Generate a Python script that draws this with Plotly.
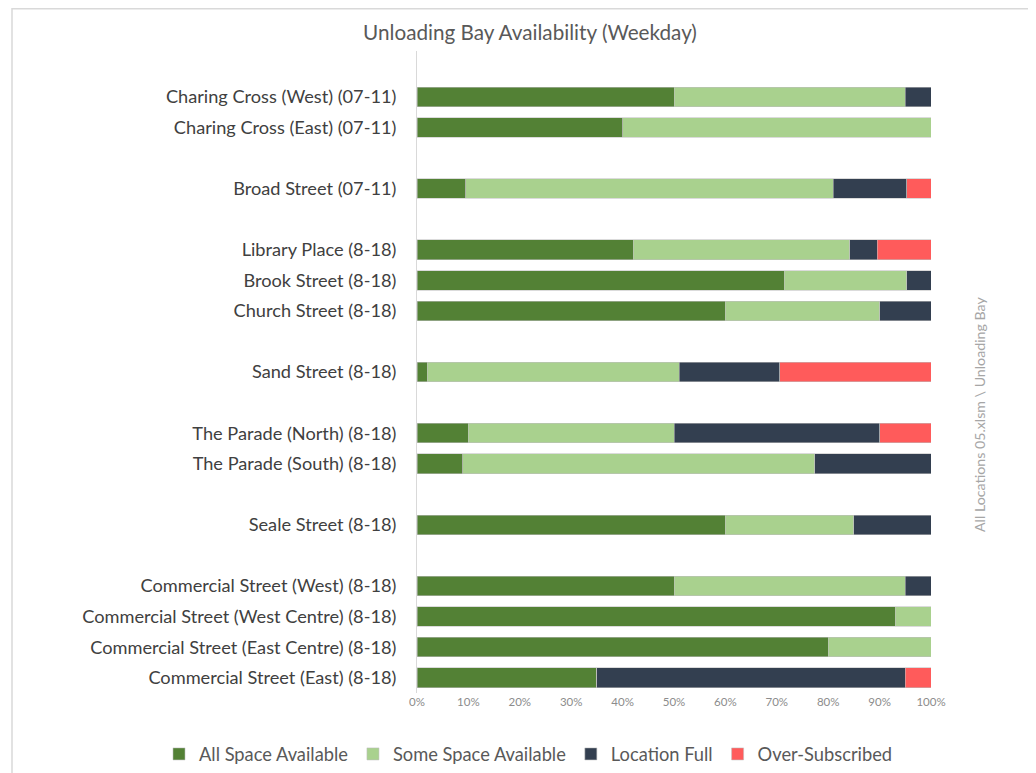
import plotly.graph_objects as go

locations = [
    "Charing Cross (West) (07-11)",
    "Charing Cross (East) (07-11)",
    "Broad Street (07-11)",
    "Library Place (8-18)",
    "Brook Street (8-18)",
    "Church Street (8-18)",
    "Sand Street (8-18)",
    "The Parade (North) (8-18)",
    "The Parade (South) (8-18)",
    "Seale Street (8-18)",
    "Commercial Street (West) (8-18)",
    "Commercial Street (West Centre) (8-18)",
    "Commercial Street (East Centre) (8-18)",
    "Commercial Street (East) (8-18)",
]
# row slot of each location (blank slots separate groups)
slots = [0, 1, 3, 5, 6, 7, 9, 11, 12, 14, 16, 17, 18, 19]

all_space = [50.0, 40.0, 9.52, 42.1, 71.43, 60.0, 1.96, 10.0, 8.9, 60.0, 50.0, 93.0, 80.0, 35.0]
some_space = [45.0, 60.0, 71.43, 42.1, 23.81, 30.0, 49.02, 40.0, 68.5, 25.0, 45.0, 7.0, 20.0, 0.0]
location_full = [5.0, 0.0, 14.29, 5.3, 4.76, 10.0, 19.61, 40.0, 22.6, 15.0, 5.0, 0.0, 0.0, 60.0]
over_subscribed = [0.0, 0.0, 4.76, 10.5, 0.0, 0.0, 29.41, 10.0, 0.0, 0.0, 0.0, 0.0, 0.0, 5.0]

series = [
    ("All Space Available", all_space, "#538135"),
    ("Some Space Available", some_space, "#A9D18E"),
    ("Location Full", location_full, "#333F50"),
    ("Over-Subscribed", over_subscribed, "#FF5B5B"),
]

x_ticks = [0, 10, 20, 30, 40, 50, 60, 70, 80, 90, 100]
x_tick_labels = ["0%", "10%", "20%", "30%", "40%", "50%", "60%", "70%", "80%", "90%", "100%"]

FONT = "Lato"

fig = go.Figure()
for name, vals, col in series:
    fig.add_trace(go.Bar(
        y=slots, x=vals, name=name, orientation="h",
        marker=dict(color=col, line=dict(color="rgba(190,190,190,0.7)", width=0.8)),
        width=0.64,
    ))

# page body has an 8px margin: work in figure pixels = screen pixels - 8
OFF = 8
W, H = 1036 - OFF, 773 - OFF
L = 417 - OFF
R = W - (931 - OFF)
T = 51 - OFF
B = H - (693 - OFF)
pw, ph = W - L - R, H - T - B

def px_x(sx):
    return (sx - OFF - L) / pw

def px_y(sy):
    return (H - B - (sy - OFF)) / ph

fig.update_layout(
    width=W, height=H,
    barmode="stack",
    plot_bgcolor="white", paper_bgcolor="white",
    margin=dict(l=L, r=R, t=T, b=B, autoexpand=False),
    font=dict(family=FONT, color="#595959"),
    title=dict(text="Unloading Bay Availability (Weekday)", x=(530 - OFF) / W, xanchor="center",
               y=1 - (33 - OFF) / H, yanchor="middle",
               font=dict(size=20.7, color="#595959", family=FONT)),
    xaxis=dict(range=[0, 100], tickvals=x_ticks, ticktext=x_tick_labels,
               showgrid=False, zeroline=False, showline=False,
               tickfont=dict(size=11.5, color="#8c8c8c"), ticks=""),
    yaxis=dict(range=[19.5, -1.5], tickvals=slots, ticktext=locations,
               showgrid=False, zeroline=False, showline=True, linecolor="#d9d9d9",
               linewidth=1, ticks="outside", ticklen=16, tickcolor="rgba(0,0,0,0)",
               tickfont=dict(size=18.2, color="#404040")),
    legend=dict(orientation="h", x=px_x(159), xanchor="left", y=px_y(754), yanchor="middle",
                font=dict(size=18.3, color="#595959"), traceorder="normal",
                itemwidth=30),
    bargap=0.36,
    shapes=[dict(type="rect", xref="paper", yref="paper",
                 x0=px_x(12), x1=px_x(1050), y0=px_y(790), y1=px_y(8.75),
                 line=dict(color="#d9d9d9", width=1.5), fillcolor="rgba(0,0,0,0)", layer="below")],
    annotations=[dict(text="All Locations 05.xlsm \\ Unloading Bay", xref="paper", yref="paper",
                      x=px_x(979), y=px_y(415), textangle=-90, showarrow=False,
                      font=dict(size=14.2, color="#a6a6a6"), xanchor="center", yanchor="middle")],
)

fig.write_html("out.html")
